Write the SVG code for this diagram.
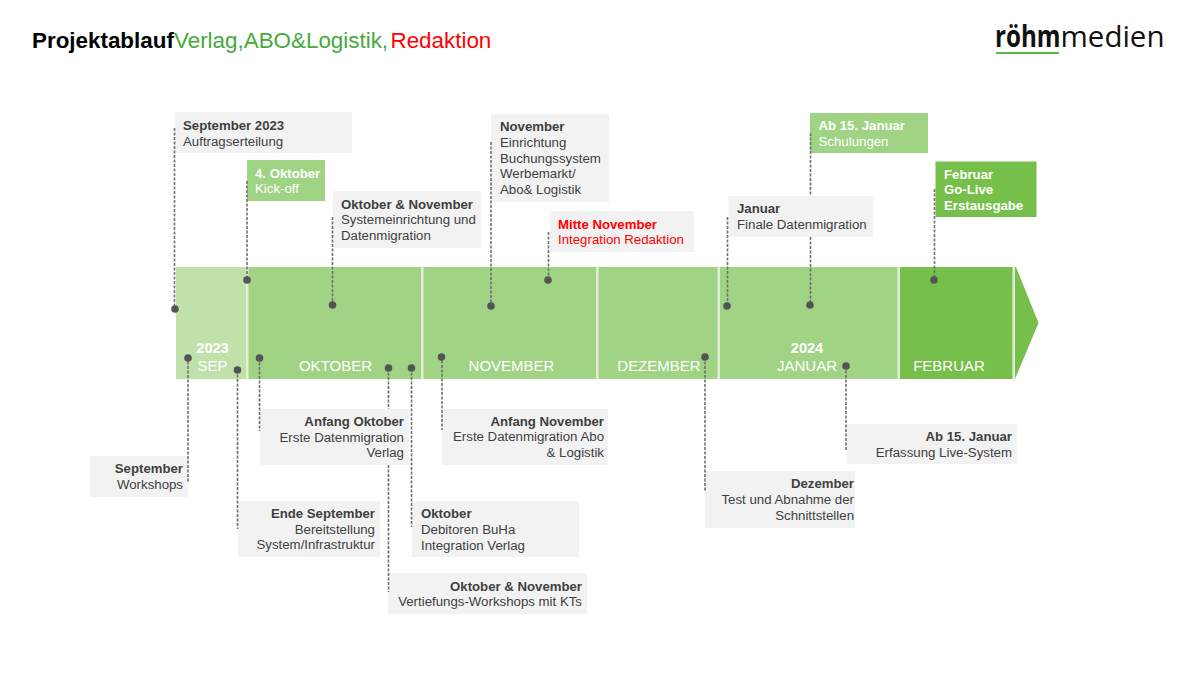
<svg xmlns="http://www.w3.org/2000/svg" width="1200" height="675" viewBox="0 0 1200 675">
<style>
text{font-family:"Liberation Sans",Arial,sans-serif;font-size:13.250px;fill:#404040}
.b{font-weight:700;font-size:13.200px}
.r{text-anchor:end}
.gb{fill:#f2f2f2}
.m{font-size:15px;fill:#fff;text-anchor:middle}
.y{font-size:14.600px;font-weight:700;fill:#fff;text-anchor:middle}
.t{font-size:22.400px}
.s{fill:#e2f0d9}
.c{stroke:#707070;stroke-width:1.600;stroke-dasharray:3 1.500;fill:none}
.d{fill:#545358}
</style>
<rect width="1200" height="675" fill="#fff"/>
<g id="title"><text class="t b" x="32" y="48" style="fill:#000;font-size:22.400px">Projektablauf</text><text class="t" x="174" y="48" style="fill:#47a93c">Verlag,ABO&amp;Logistik,</text><text class="t" x="390.500" y="48" style="fill:#f00">Redaktion</text></g>
<g id="logo"><text transform="translate(995 46.500) scale(.82 1)" style="font-family:'Open Sans',sans-serif;font-size:29.500px;font-weight:700;fill:#111">röhm</text><text transform="translate(1060.500 46.500)" style="font-family:'Open Sans',sans-serif;font-size:29.500px;fill:#111">medien</text><rect x="996" y="52" width="63" height="2" fill="#5cb947"/></g>
<g id="timeline">
<rect x="176" y="267" width="71" height="112" fill="#c1e1aa"/>
<rect x="247" y="267" width="651" height="112" fill="#a0d384"/>
<rect x="898" y="267" width="115" height="112" fill="#75bf4a"/>
<rect class="s" x="246" y="267" width="2.500" height="112"/>
<rect class="s" x="421" y="267" width="2.500" height="112"/>
<rect class="s" x="596" y="267" width="2.500" height="112"/>
<rect class="s" x="717.500" y="267" width="2.500" height="112"/>
<rect class="s" x="897.500" y="267" width="2.500" height="112"/>
<rect class="s" x="1012.500" y="267" width="2.500" height="112"/>
<polygon points="1015,267 1016,267 1038.500,323 1015,379" fill="#75bf4a"/>
<text class="y" x="212.500" y="353">2023</text><text class="m" x="212.500" y="371">SEP</text>
<text class="m" x="335.500" y="371">OKTOBER</text><text class="m" x="511.500" y="371">NOVEMBER</text><text class="m" x="659" y="371">DEZEMBER</text>
<text class="y" x="807" y="353">2024</text><text class="m" x="807" y="371">JANUAR</text><text class="m" x="949" y="371">FEBRUAR</text>
</g>
<g id="n1"><rect class="gb" x="175" y="112" width="177" height="41"/><text class="b" x="183" y="130">September 2023</text><text x="183" y="146">Auftragserteilung</text></g>
<g id="n2"><rect x="247" y="160" width="78" height="41" fill="#a0d384"/><text class="b" x="255" y="178" style="fill:#fff">4. Oktober</text><text x="255" y="193" style="fill:#fff">Kick-off</text></g>
<g id="n3"><rect class="gb" x="333" y="191" width="148" height="57"/><text class="b" x="341" y="209">Oktober &amp; November</text><text x="341" y="224">Systemeinrichtung und</text><text x="341" y="240">Datenmigration</text></g>
<g id="n4"><rect class="gb" x="491" y="114" width="118" height="88"/><text class="b" x="500" y="131">November</text><text x="500" y="147">Einrichtung</text><text x="500" y="163">Buchungssystem</text><text x="500" y="178">Werbemarkt/</text><text x="500" y="194">Abo&amp; Logistik</text></g>
<g id="n5"><rect class="gb" x="550" y="211" width="144" height="41"/><text class="b" x="558" y="229" style="fill:#f00">Mitte November</text><text x="558" y="244" style="fill:#f00">Integration Redaktion</text></g>
<g id="n6"><rect class="gb" x="728.500" y="196" width="144.500" height="41"/><text class="b" x="737" y="213">Januar</text><text x="737" y="229">Finale Datenmigration</text></g>
<g id="n7"><rect x="810" y="113" width="118" height="40" fill="#a0d384"/><text class="b" x="818.500" y="130" style="fill:#fff">Ab 15. Januar</text><text x="818.500" y="146" style="fill:#fff">Schulungen</text></g>
<g id="n8"><rect x="935.500" y="161.500" width="101" height="55.500" fill="#75bf4a"/><text class="b" x="944" y="179" style="fill:#fff">Februar</text><text class="b" x="944" y="194" style="fill:#fff">Go-Live</text><text class="b" x="944" y="210" style="fill:#fff">Erstausgabe</text></g>
<g id="n9"><rect class="gb" x="90" y="456" width="98" height="41"/><text class="b r" x="183" y="473">September</text><text class="r" x="183" y="489">Workshops</text></g>
<g id="n10"><rect class="gb" x="238" y="501" width="142" height="56"/><text class="b r" x="375" y="518">Ende September</text><text class="r" x="375" y="534">Bereitstellung</text><text class="r" x="375" y="549">System/Infrastruktur</text></g>
<g id="n11"><rect class="gb" x="260" y="409" width="149" height="56"/><text class="b r" x="404" y="426">Anfang Oktober</text><text class="r" x="404" y="442">Erste Datenmigration</text><text class="r" x="404" y="457">Verlag</text></g>
<g id="n12"><rect class="gb" x="412" y="501" width="167" height="56"/><text class="b" x="421" y="518">Oktober</text><text x="421" y="534">Debitoren BuHa</text><text x="421" y="550">Integration Verlag</text></g>
<g id="n13"><rect class="gb" x="388" y="573" width="199" height="41"/><text class="b r" x="582" y="591">Oktober &amp; November</text><text class="r" x="582" y="606">Vertiefungs-Workshops mit KTs</text></g>
<g id="n14"><rect class="gb" x="442" y="409" width="166" height="56"/><text class="b r" x="604" y="426">Anfang November</text><text class="r" x="604" y="441">Erste Datenmigration Abo</text><text class="r" x="604" y="457">&amp; Logistik</text></g>
<g id="n15"><rect class="gb" x="705" y="471" width="150" height="57"/><text class="b r" x="854" y="488">Dezember</text><text class="r" x="854" y="504">Test und Abnahme der</text><text class="r" x="854" y="520">Schnittstellen</text></g>
<g id="n16"><rect class="gb" x="847" y="424" width="170" height="40"/><text class="b r" x="1012" y="441">Ab 15. Januar</text><text class="r" x="1012" y="457">Erfassung Live-System</text></g>
<g id="connectors">
<path class="c" d="M174.500 128V309M247 181V280M332.500 217V305M491 142V306M548.500 232V280M727.500 217V306M810.500 133V196M810.500 237V305M934.500 189V280M188 357V482M237.500 370V529M259.500 358V431M388.500 368V409M388.500 465V592M411.500 368V527M442 356V430M705 357V491M846 366V450"/>
<g class="d"><circle cx="175" cy="309" r="3.800"/><circle cx="247" cy="280" r="3.800"/><circle cx="332.500" cy="305" r="3.800"/><circle cx="491" cy="306" r="3.800"/><circle cx="548" cy="280" r="3.800"/><circle cx="727" cy="306" r="3.800"/><circle cx="810" cy="305" r="3.800"/><circle cx="934" cy="280" r="3.800"/><circle cx="188" cy="358" r="3.800"/><circle cx="237.500" cy="370" r="3.800"/><circle cx="259.500" cy="358" r="3.800"/><circle cx="388.500" cy="368" r="3.800"/><circle cx="411.500" cy="368" r="3.800"/><circle cx="441.500" cy="357" r="3.800"/><circle cx="705" cy="357" r="3.800"/><circle cx="846" cy="366" r="3.800"/></g>
</g>
</svg>
